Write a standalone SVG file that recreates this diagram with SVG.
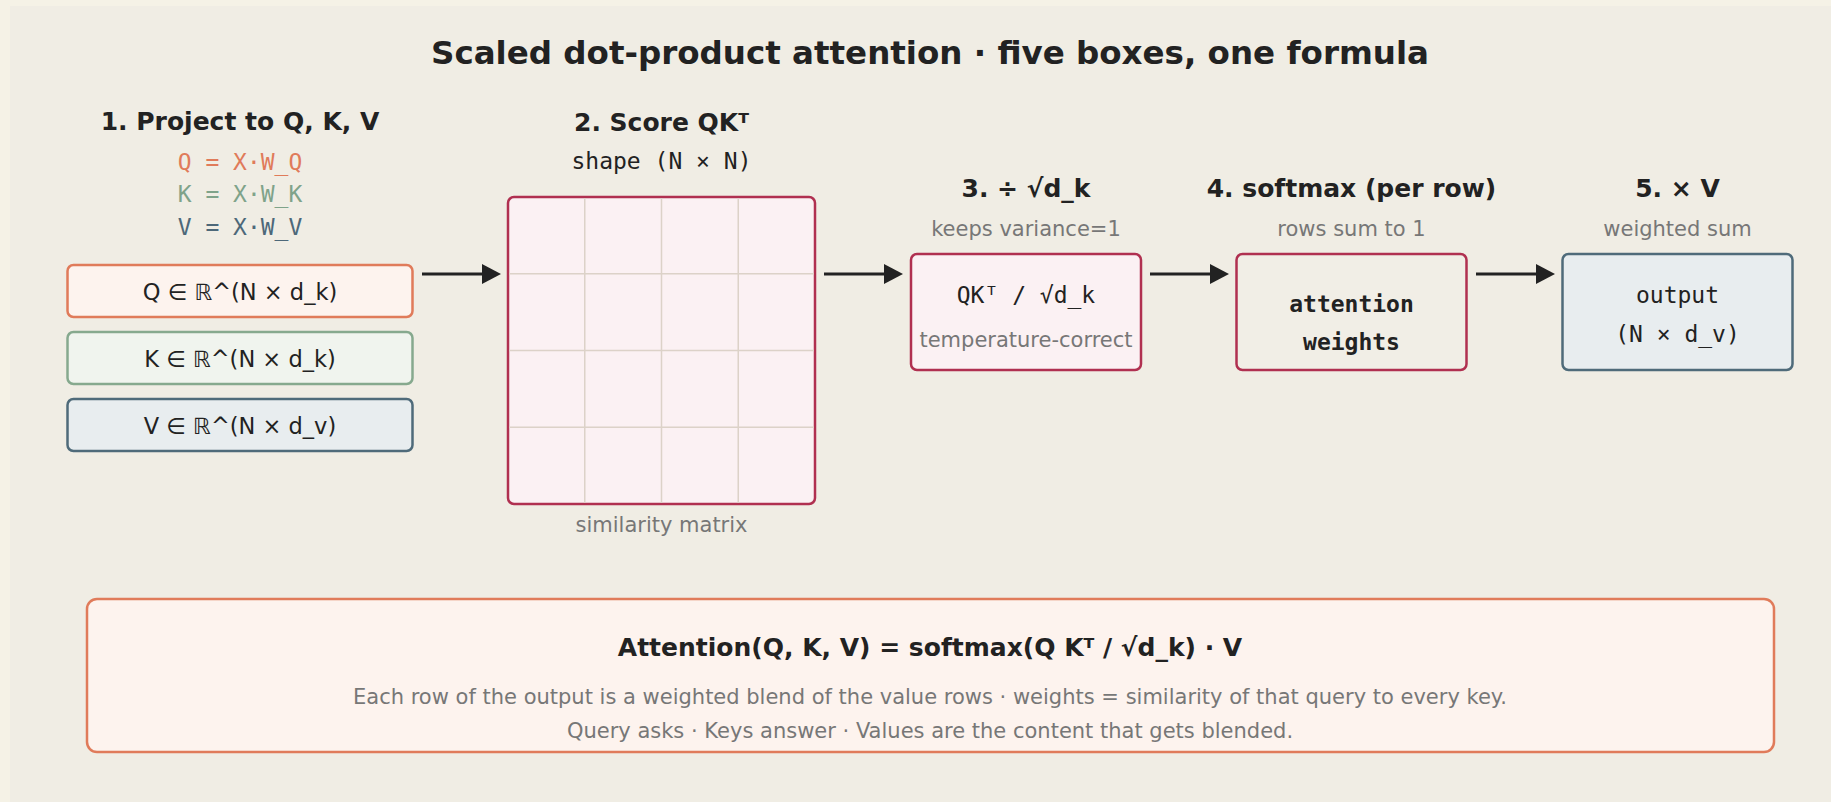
<svg xmlns="http://www.w3.org/2000/svg" width="1831" height="802" viewBox="0 0 1831 802">
<defs>
<style>
.t{font-family:"DejaVu Sans","Liberation Sans",sans-serif;text-anchor:middle;fill:#222}
.h{font-weight:bold;font-size:25px}
.g{fill:#777;font-size:21px}
.b{font-size:22.5px}
.m{font-family:"DejaVu Sans Mono","Liberation Mono",monospace;font-size:23px;text-anchor:middle;fill:#222}
.box{stroke-width:2.5}
.grid{stroke:#dcd2c8;stroke-width:1.5}
.arr{stroke:#222;stroke-width:3;fill:none}
</style>
<marker id="ah" markerUnits="userSpaceOnUse" markerWidth="20" markerHeight="20" refX="1" refY="10" orient="auto">
<path d="M0,0 L19,10 L0,20 z" fill="#222"/>
</marker>
</defs>
<rect x="0" y="0" width="1831" height="802" fill="#f5f2e6"/>
<rect x="10" y="6" width="1821" height="796" fill="#f0ede4"/>
<text class="t" x="930" y="64" font-weight="bold" font-size="32.5">Scaled dot-product attention · five boxes, one formula</text>

<g id="step1">
<text class="t h" x="240" y="130">1. Project to Q, K, V</text>
<text class="m" x="240" y="169.5" style="fill:#e07b5a">Q = X·W_Q</text>
<text class="m" x="240" y="202" style="fill:#7fa38a">K = X·W_K</text>
<text class="m" x="240" y="234.5" style="fill:#4d6879">V = X·W_V</text>
</g>
<g id="q-box">
<rect class="box" x="67.5" y="265" width="345" height="52" rx="6" fill="#fdf3ee" stroke="#e07b5a"/>
<text class="t b" x="240" y="300">Q ∈ ℝ^(N × d_k)</text>
</g>
<g id="k-box">
<rect class="box" x="67.5" y="332" width="345" height="52" rx="6" fill="#f0f4ee" stroke="#86a98e"/>
<text class="t b" x="240" y="367">K ∈ ℝ^(N × d_k)</text>
</g>
<g id="v-box">
<rect class="box" x="67.5" y="399" width="345" height="52" rx="6" fill="#e8edef" stroke="#4f6b7a"/>
<text class="t b" x="240" y="434">V ∈ ℝ^(N × d_v)</text>
</g>

<g id="step2">
<text class="t h" x="661.5" y="130.5">2. Score QKᵀ</text>
<text class="m" x="661.5" y="169">shape (N × N)</text>
<rect class="box" x="508" y="197" width="307" height="307" rx="6" fill="#fbf1f3" stroke="#b03050"/>
<line class="grid" x1="584.75" y1="198" x2="584.75" y2="503"/>
<line class="grid" x1="661.5" y1="198" x2="661.5" y2="503"/>
<line class="grid" x1="738.25" y1="198" x2="738.25" y2="503"/>
<line class="grid" x1="509" y1="273.75" x2="814" y2="273.75"/>
<line class="grid" x1="509" y1="350.5" x2="814" y2="350.5"/>
<line class="grid" x1="509" y1="427.25" x2="814" y2="427.25"/>
<text class="t g" x="661.5" y="531.5">similarity matrix</text>
</g>

<g id="step3">
<text class="t h" x="1026" y="197">3. ÷ √d_k</text>
<text class="t g" x="1026" y="236">keeps variance=1</text>
<rect class="box" x="911" y="254" width="230" height="116" rx="6" fill="#fbf1f3" stroke="#b03050"/>
<text class="m" x="1026" y="303">QKᵀ / √d_k</text>
<text class="t g" x="1026" y="347">temperature-correct</text>
</g>

<g id="step4">
<text class="t h" x="1351.5" y="197">4. softmax (per row)</text>
<text class="t g" x="1351.5" y="236">rows sum to 1</text>
<rect class="box" x="1236.5" y="254" width="230" height="116" rx="6" fill="#f1eee6" stroke="#b03050"/>
<text class="m" x="1351.5" y="312" font-weight="bold">attention</text>
<text class="m" x="1351.5" y="350" font-weight="bold">weights</text>
</g>

<g id="step5">
<text class="t h" x="1677.5" y="197">5. × V</text>
<text class="t g" x="1677.5" y="236">weighted sum</text>
<rect class="box" x="1562.5" y="254" width="230" height="116" rx="6" fill="#e8edef" stroke="#4f6b7a"/>
<text class="m" x="1677.5" y="303">output</text>
<text class="m" x="1677.5" y="342">(N × d_v)</text>
</g>

<g id="connectors">
<line class="arr" x1="422" y1="274" x2="483" y2="274" marker-end="url(#ah)"/>
<line class="arr" x1="824" y1="274" x2="885" y2="274" marker-end="url(#ah)"/>
<line class="arr" x1="1150" y1="274" x2="1211" y2="274" marker-end="url(#ah)"/>
<line class="arr" x1="1476" y1="274" x2="1537" y2="274" marker-end="url(#ah)"/>
</g>

<g id="formula">
<rect class="box" x="87" y="599" width="1687" height="153" rx="10" fill="#fdf3ee" stroke="#e07b5a"/>
<text class="t h" x="930" y="656">Attention(Q, K, V) = softmax(Q Kᵀ / √d_k) · V</text>
<text class="t g" x="930" y="704">Each row of the output is a weighted blend of the value rows · weights = similarity of that query to every key.</text>
<text class="t g" x="930" y="738">Query asks · Keys answer · Values are the content that gets blended.</text>
</g>
</svg>
